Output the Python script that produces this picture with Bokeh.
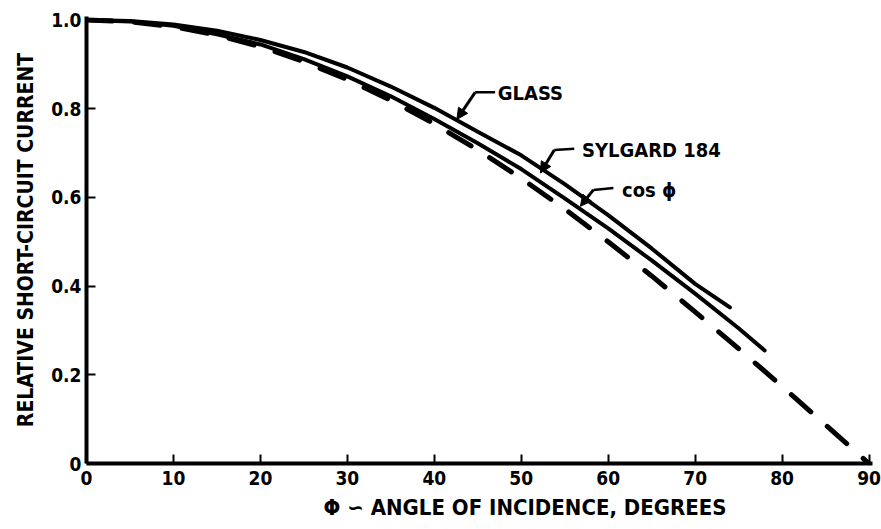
from bokeh.plotting import figure
from bokeh.models import FixedTicker, CustomJSTickFormatter, Label, Arrow, NormalHead, Title
from bokeh.embed import file_html
from bokeh.resources import INLINE

# Angle of incidence (degrees) and relative short-circuit current
glass_angle = [0, 5, 10, 15, 20, 25, 30, 35, 40, 45, 50, 55, 60, 65, 70, 74]
glass_current = [1.0, 0.998, 0.99, 0.976, 0.955, 0.928, 0.893, 0.85, 0.802,
                 0.748, 0.695, 0.63, 0.56, 0.485, 0.405, 0.352]

sylgard_angle = [0, 5, 10, 15, 20, 25, 30, 35, 40, 45, 50, 55, 60, 65, 70, 75, 78]
sylgard_current = [1.0, 0.997, 0.987, 0.968, 0.945, 0.912, 0.873, 0.828, 0.777,
                   0.722, 0.664, 0.598, 0.53, 0.458, 0.383, 0.305, 0.255]

cos_angle = [0, 5, 10, 15, 20, 25, 30, 35, 40, 45, 50, 55, 60, 65, 70, 75, 80, 85, 90]
cos_current = [1.0, 0.996, 0.985, 0.966, 0.94, 0.906, 0.866, 0.819, 0.766, 0.707,
               0.643, 0.574, 0.5, 0.423, 0.342, 0.259, 0.174, 0.087, 0.0]

x_ticks = [0, 10, 20, 30, 40, 50, 60, 70, 80, 90]
y_ticks = [0, 0.2, 0.4, 0.6, 0.8, 1.0]

FONT = "'DejaVu Sans Condensed', 'Liberation Sans Narrow', sans-serif"
INK = "#000000"

p = figure(width=881, height=529, x_range=(0, 90.4), y_range=(0, 1.008),
           output_backend="svg", toolbar_location=None,
           min_border_left=86, min_border_right=9, min_border_top=16,
           min_border_bottom=66)
p.outline_line_color = None
p.xgrid.visible = False
p.ygrid.visible = False
p.background_fill_color = "white"
p.border_fill_color = "white"

for ax in (p.xaxis[0], p.yaxis[0]):
    ax.axis_line_width = 4
    ax.axis_line_color = INK
    ax.major_tick_line_width = 2
    ax.major_tick_line_color = INK
    ax.major_tick_in = 9
    ax.major_tick_out = 0
    ax.minor_tick_line_color = None
    ax.major_label_text_font = FONT
    ax.major_label_text_font_style = "bold"
    ax.major_label_text_font_size = "19px"
    ax.major_label_text_color = INK

p.xaxis.ticker = FixedTicker(ticks=x_ticks)
p.yaxis.ticker = FixedTicker(ticks=y_ticks)
p.yaxis.formatter = CustomJSTickFormatter(code="return tick === 0 ? '0' : tick.toFixed(1);")
p.xaxis.major_label_standoff = 7
p.yaxis.major_label_standoff = 5

# Vertical axis title
p.yaxis.axis_label = "RELATIVE SHORT-CIRCUIT CURRENT"
p.yaxis.axis_label_text_font = FONT
p.yaxis.axis_label_text_font_style = "bold"
p.yaxis.axis_label_text_font_size = "21px"
p.yaxis.axis_label_text_color = INK
p.yaxis.axis_label_standoff = 10

# Horizontal axis title, set to the right of the axis centre
p.add_layout(Title(text="\u03a6 \u223d ANGLE OF INCIDENCE, DEGREES", align="left",
                   offset=237, standoff=10, text_font=FONT, text_font_style="bold",
                   text_font_size="22px", text_color=INK), "below")

# Curves
p.line(cos_angle, cos_current, line_color=INK, line_width=5,
       line_dash="26 22", line_cap="round")
p.line(sylgard_angle, sylgard_current, line_color=INK, line_width=4, line_cap="round")
p.line(glass_angle, glass_current, line_color=INK, line_width=4, line_cap="round")


def callout(text, tx, ty, path, size="20px"):
    p.add_layout(Label(x=tx, y=ty, text=text, text_align="left",
                       text_baseline="middle", text_font=FONT,
                       text_font_style="bold", text_font_size=size,
                       text_color=INK))
    xs = [pt[0] for pt in path[:-1]]
    ys = [pt[1] for pt in path[:-1]]
    p.line(xs, ys, line_color=INK, line_width=2.5)
    p.add_layout(Arrow(x_start=path[-2][0], y_start=path[-2][1],
                       x_end=path[-1][0], y_end=path[-1][1],
                       line_color=INK, line_width=3,
                       end=NormalHead(size=11, fill_color=INK, line_color=INK)))


callout("GLASS", 47.3, 0.835, [(47.0, 0.837), (44.7, 0.837), (42.6, 0.776)])
callout("SYLGARD 184", 57.0, 0.706, [(56.1, 0.71), (53.8, 0.707), (52.2, 0.655)])
callout("cos \u03d5", 61.6, 0.617, [(60.6, 0.621), (58.3, 0.617), (56.8, 0.58)])

open("out.html", "w").write(file_html(p, INLINE))
